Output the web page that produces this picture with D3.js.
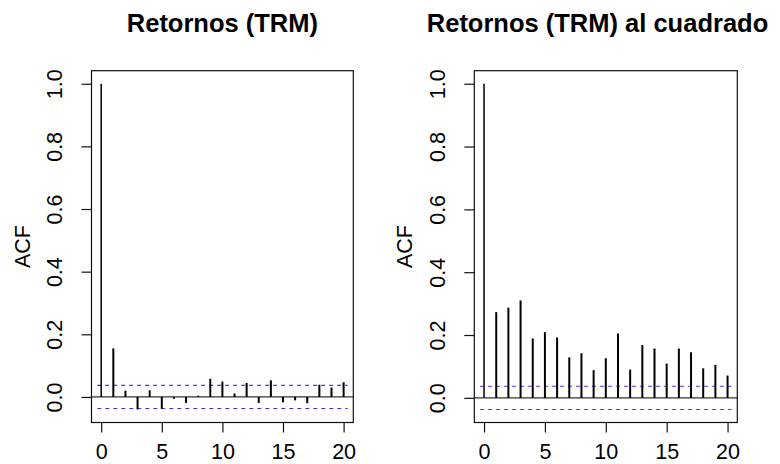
<!DOCTYPE html>
<html>
<head>
<meta charset="utf-8">
<script src="https://cdn.jsdelivr.net/npm/d3@7"></script>
<style>
  html, body { margin: 0; padding: 0; background: #fff; }
  svg { display: block; font-family: "Liberation Sans", Arial, Helvetica, sans-serif; }
</style>
</head>
<body>
<svg id="chart" width="780" height="464"></svg>
<script>
// Autocorrelation of TRM returns and squared returns, lags 0..20
const lags = d3.range(0, 21);
const acfReturns = [1.000, 0.155, 0.020, -0.040, 0.021, -0.038, -0.006, -0.019, 0.004, 0.058,
                    0.049, 0.011, 0.045, -0.019, 0.053, -0.017, -0.011, -0.020, 0.039, 0.030, 0.047];
const acfSquared = [1.000, 0.273, 0.287, 0.310, 0.189, 0.209, 0.192, 0.129, 0.142, 0.088,
                    0.126, 0.205, 0.090, 0.168, 0.157, 0.109, 0.157, 0.145, 0.094, 0.105, 0.071];
const confBand = 0.037;
const yTicks = [0, 0.2, 0.4, 0.6, 0.8, 1.0];
const xTicks = [0, 5, 10, 15, 20];
const titles = ["Retornos (TRM)", "Retornos (TRM) al cuadrado"];
const yLabel = "ACF";

const svg = d3.select("#chart");

const panels = [
  { values: acfReturns, title: titles[0], left: 91.5, right: 353.3, titleX: 222.4 },
  { values: acfSquared, title: titles[1], left: 474.3, right: 737.3, titleX: 597.5 }
];
const plotTop = 70.7, plotBottom = 422.5;

// extend a range by 4% on each side
function padded(lo, hi) {
  const d = (hi - lo) * 0.04;
  return [lo - d, hi + d];
}

panels.forEach(p => {
  const g = svg.append("g");
  const x = d3.scaleLinear().domain(padded(0, 20)).range([p.left, p.right]);
  const lo = Math.min(d3.min(p.values), -confBand);
  const hi = Math.max(d3.max(p.values), confBand);
  const y = d3.scaleLinear().domain(padded(lo, hi)).range([plotBottom, plotTop]);

  // confidence band
  [confBand, -confBand].forEach(c => {
    g.append("line")
      .attr("x1", x(0) - 4).attr("x2", x(20) + 4)
      .attr("y1", y(c)).attr("y2", y(c))
      .attr("stroke", "#5a2cf2").attr("stroke-width", 1.1)
      .attr("stroke-dasharray", "4,4");
  });

  // zero line
  g.append("line")
    .attr("x1", p.left).attr("x2", p.right)
    .attr("y1", y(0)).attr("y2", y(0))
    .attr("stroke", "#333").attr("stroke-width", 1.3);

  // acf spikes
  g.selectAll("line.spike")
    .data(lags)
    .join("line")
    .attr("class", "spike")
    .attr("x1", d => x(d)).attr("x2", d => x(d))
    .attr("y1", y(0)).attr("y2", d => y(p.values[d]))
    .attr("stroke", "#000")
    .attr("stroke-width", d => d === 0 ? 1.5 : 2);

  // frame
  g.append("rect")
    .attr("x", p.left).attr("y", plotTop)
    .attr("width", p.right - p.left).attr("height", plotBottom - plotTop)
    .attr("fill", "none").attr("stroke", "#111").attr("stroke-width", 1.2);

  // axes
  const xAxis = g.append("g")
    .attr("transform", `translate(0,${plotBottom})`)
    .call(d3.axisBottom(x).tickValues(xTicks).tickSize(10).tickPadding(11).tickFormat(d3.format("d")));
  xAxis.select(".domain").remove();
  xAxis.selectAll("line").attr("stroke", "#111").attr("stroke-width", 1.2);
  xAxis.selectAll("text").attr("font-size", 21.5).attr("fill", "#000")
    .attr("font-family", "Liberation Sans, Arial, sans-serif");

  const yAxis = g.append("g")
    .attr("transform", `translate(${p.left},0)`)
    .call(d3.axisLeft(y).tickValues(yTicks).tickSize(10).tickFormat(d3.format(".1f")));
  yAxis.select(".domain").remove();
  yAxis.selectAll("line").attr("stroke", "#111").attr("stroke-width", 1.2);
  yAxis.selectAll("text")
    .attr("font-size", 21.5).attr("fill", "#000")
    .attr("font-family", "Liberation Sans, Arial, sans-serif")
    .attr("text-anchor", "middle")
    .attr("dy", null)
    .attr("x", null)
    .attr("transform", `translate(${-29.5},0) rotate(-90)`);

  // y axis title
  g.append("text")
    .attr("transform", `translate(${p.left - 62},${(plotTop + plotBottom) / 2}) rotate(-90)`)
    .attr("text-anchor", "middle")
    .attr("font-size", 21.5)
    .text(yLabel);

  // panel title
  g.append("text")
    .attr("x", p.titleX).attr("y", 31.7)
    .attr("text-anchor", "middle")
    .attr("font-size", 25.5).attr("font-weight", "bold")
    .text(p.title);
});
</script>
</body>
</html>
